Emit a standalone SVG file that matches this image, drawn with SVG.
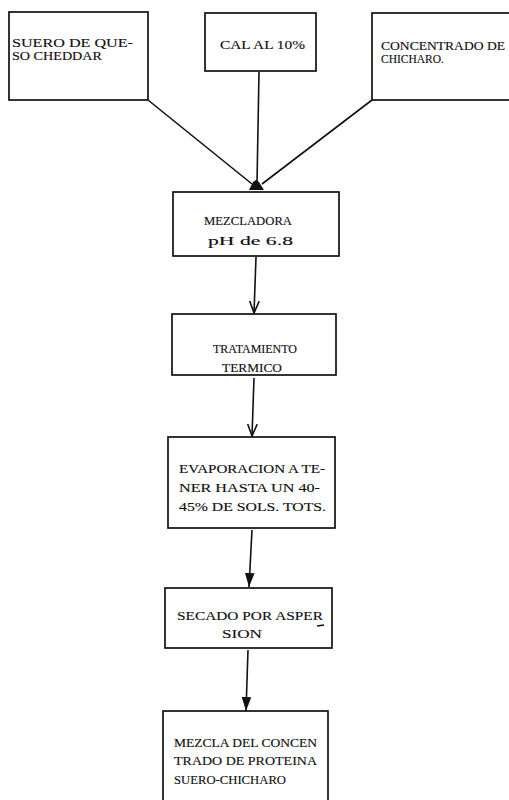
<svg xmlns="http://www.w3.org/2000/svg" width="509" height="800" viewBox="0 0 509 800">
<style>
.box{fill:none;stroke:#111;stroke-width:1.7}
.ln{fill:none;stroke:#111;stroke-width:1.6}
text{font-family:"Liberation Serif","DejaVu Serif",serif;font-size:13.5px;fill:#111;stroke:#111;stroke-width:0.15}
.sm{font-size:12.5px}
</style>
<defs>
<marker id="vopen" markerUnits="userSpaceOnUse" viewBox="0 -6 13 12" refX="12" refY="0" markerWidth="13" markerHeight="12" orient="auto">
<path d="M0,-4.8 L12,0 L0,4.8" fill="none" stroke="#111" stroke-width="1.6"/>
</marker>
<marker id="vfill" markerUnits="userSpaceOnUse" viewBox="0 -6 15 12" refX="14" refY="0" markerWidth="15" markerHeight="12" orient="auto">
<path d="M0,-4.8 L14,0 L0,4.8 Z" fill="#111"/>
</marker>
</defs>
<rect width="509" height="800" fill="#fff"/>
<g id="connectors">
<path class="ln" d="M148,100 L252,184"/>
<path class="ln" d="M259,72 L257,183"/>
<path class="ln" d="M372,100 L262,184"/>
<path d="M249,190 L253,182 L256,180 L259,182 L264,190 Z" fill="#111"/>
<path class="ln" d="M256,257 L254,313" marker-end="url(#vopen)"/>
<path class="ln" d="M254,378 L252,436" marker-end="url(#vopen)"/>
<path class="ln" d="M252,530 L249,587" marker-end="url(#vfill)"/>
<path class="ln" d="M248,650 L246,711" marker-end="url(#vfill)"/>
</g>
<g id="suero">
<rect class="box" x="9" y="12" width="139" height="88"/>
<text class="sm" x="12" y="47" textLength="121" lengthAdjust="spacingAndGlyphs">SUERO DE QUE-</text>
<text class="sm" x="12" y="60" textLength="90" lengthAdjust="spacingAndGlyphs">SO CHEDDAR</text>
</g>
<g id="cal">
<rect class="box" x="205" y="13" width="111" height="58"/>
<text x="220" y="49" textLength="85" lengthAdjust="spacingAndGlyphs">CAL AL 10%</text>
</g>
<g id="concentrado">
<rect class="box" x="372" y="13" width="145" height="87"/>
<text class="sm" x="381" y="50" textLength="124" lengthAdjust="spacingAndGlyphs">CONCENTRADO DE</text>
<text class="sm" x="381" y="63" textLength="63" lengthAdjust="spacingAndGlyphs">CHICHARO.</text>
</g>
<g id="mezcladora">
<rect class="box" x="173" y="192" width="166" height="64"/>
<text x="204" y="225" textLength="88" lengthAdjust="spacingAndGlyphs">MEZCLADORA</text>
<text x="208" y="245" textLength="85" lengthAdjust="spacingAndGlyphs">pH de 6.8</text>
</g>
<g id="tratamiento">
<rect class="box" x="172" y="314" width="164" height="61"/>
<text x="213" y="353" textLength="84" lengthAdjust="spacingAndGlyphs">TRATAMIENTO</text>
<text x="222" y="372" textLength="60" lengthAdjust="spacingAndGlyphs">TERMICO</text>
</g>
<g id="evaporacion">
<rect class="box" x="168" y="437" width="167" height="91"/>
<text x="179" y="473" textLength="146" lengthAdjust="spacingAndGlyphs">EVAPORACION A TE-</text>
<text x="179" y="492" textLength="141" lengthAdjust="spacingAndGlyphs">NER HASTA UN 40-</text>
<text x="179" y="511" textLength="147" lengthAdjust="spacingAndGlyphs">45% DE SOLS. TOTS.</text>
</g>
<g id="secado">
<rect class="box" x="165" y="588" width="167" height="60"/>
<text x="177" y="620" textLength="146" lengthAdjust="spacingAndGlyphs">SECADO POR ASPER</text>
<path class="ln" d="M317,626 L324,625" stroke-width="1.4"/>
<text x="222" y="638" textLength="40" lengthAdjust="spacingAndGlyphs">SION</text>
</g>
<g id="mezcla">
<rect class="box" x="163" y="711" width="165" height="95"/>
<text x="174" y="747" textLength="143" lengthAdjust="spacingAndGlyphs">MEZCLA DEL CONCEN</text>
<text x="174" y="765" textLength="143" lengthAdjust="spacingAndGlyphs">TRADO DE PROTEINA</text>
<text x="174" y="784" textLength="112" lengthAdjust="spacingAndGlyphs">SUERO-CHICHARO</text>
</g>
</svg>
